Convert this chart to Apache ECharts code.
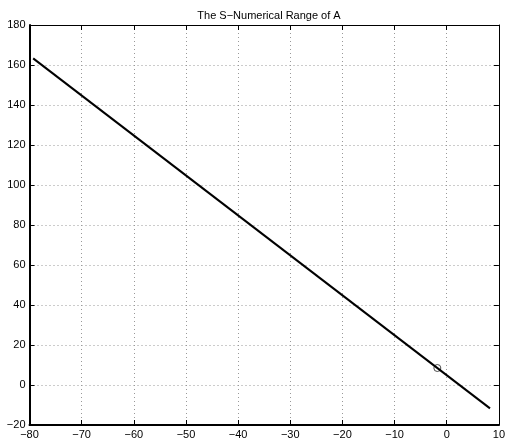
<!DOCTYPE html>
<html>
<head>
<meta charset="utf-8">
<script src="https://cdn.jsdelivr.net/npm/echarts@6/dist/echarts.min.js"></script>
<style>html,body{margin:0;padding:0;background:#fff}#c{width:508px;height:442px}</style>
</head>
<body>
<div id="c"></div>
<script>
var titleText = 'The S\u2212Numerical Range of A';
var lineX = [-79.3, 8.3];
var lineY = [163.3, -11.7];
var markX = [-1.8];
var markY = [8.5];
var xMin = -80, xMax = 10, xStep = 10;
var yMin = -20, yMax = 180, yStep = 20;

function fmt(v){ return v < 0 ? '\u2212' + Math.abs(v) : String(v); }

var lineData = lineX.map(function(x,i){ return [x, lineY[i]]; });
var markData = markX.map(function(x,i){ return [x, markY[i]]; });

var font = 'Liberation Sans, Arial, Helvetica, sans-serif';
var chart = echarts.init(document.getElementById('c'), null, {renderer:'canvas'});
var baseX = {
  type:'value', min:xMin, max:xMax, interval:xStep,
  axisLine:{show:true, onZero:false, lineStyle:{color:'#000', width:1}},
  axisTick:{show:true, inside:true, length:5, lineStyle:{color:'#000'}},
  splitLine:{show:false}
};
var baseY = {
  type:'value', min:yMin, max:yMax, interval:yStep,
  axisLine:{show:true, onZero:false, lineStyle:{color:'#000', width:1}},
  axisTick:{show:true, inside:true, length:5, lineStyle:{color:'#000'}},
  splitLine:{show:false}
};
chart.setOption({
  animation:false,
  backgroundColor:'#fff',
  title:{text:titleText, left:264, top:5, textAlign:'center',
    textStyle:{fontFamily:font, fontSize:11, fontWeight:'normal', color:'#000'}},
  grid:{left:29.5, right:2.5, top:25, bottom:17, containLabel:false},
  xAxis:[
    Object.assign({}, baseX, {position:'bottom',
      axisLine:{show:true, onZero:false, lineStyle:{color:'#000', width:2}},
      axisLabel:{show:true, formatter:fmt, margin:4, color:'#000', fontFamily:font, fontSize:11},
      splitLine:{show:true, lineStyle:{color:'#999', type:[1,3], width:1}}}),
    Object.assign({}, baseX, {position:'top', axisLabel:{show:false}})
  ],
  yAxis:[
    Object.assign({}, baseY, {position:'left',
      axisLine:{show:true, onZero:false, lineStyle:{color:'#000', width:2}},
      axisLabel:{show:true, formatter:fmt, margin:4, color:'#000', fontFamily:font, fontSize:11},
      splitLine:{show:true, lineStyle:{color:'#999', type:[1,3], width:1}}}),
    Object.assign({}, baseY, {position:'right', axisLabel:{show:false}})
  ],
  series:[
    {type:'line', xAxisIndex:0, yAxisIndex:0, data:lineData, showSymbol:false, symbol:'none',
      lineStyle:{color:'#000', width:2}, silent:true},
    {type:'scatter', xAxisIndex:0, yAxisIndex:0, data:markData, symbol:'circle', symbolSize:7,
      itemStyle:{color:'rgba(0,0,0,0)', borderColor:'#222', borderWidth:1}, silent:true}
  ]
});
</script>
</body>
</html>
